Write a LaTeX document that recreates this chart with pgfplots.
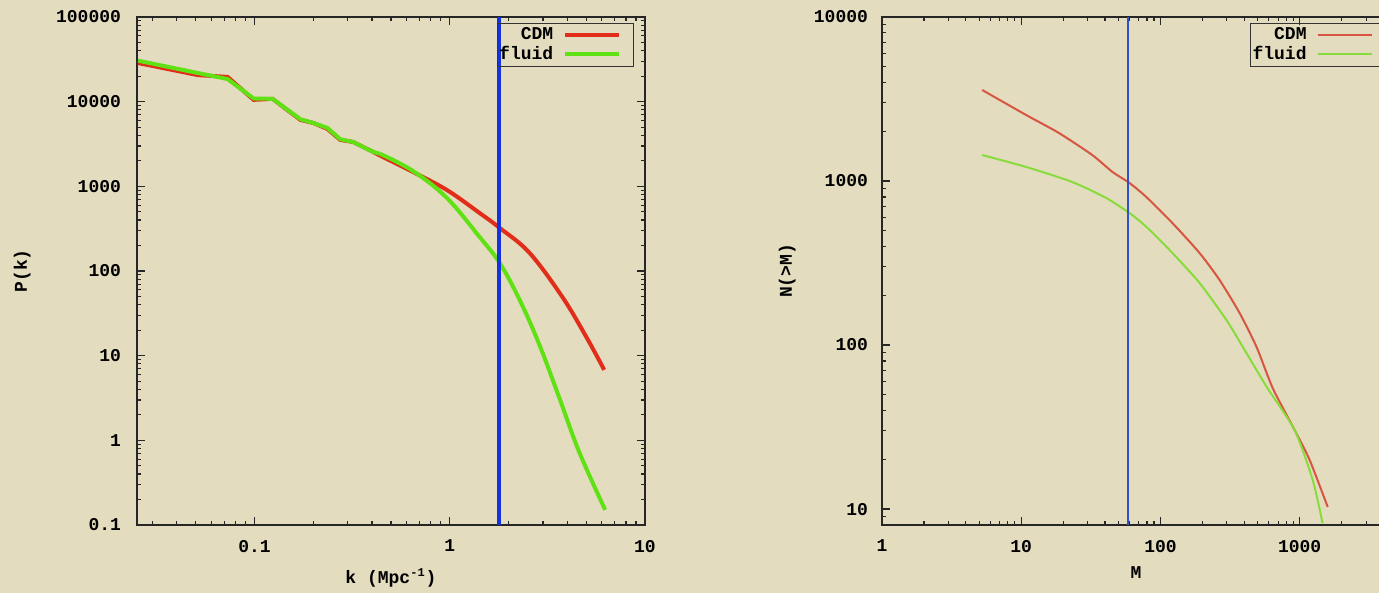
\documentclass[border=0pt]{standalone}
\usepackage{pgfplots}
\pgfplotsset{compat=1.18}
\usepackage{fontspec}
\setmonofont{Liberation Mono}
\definecolor{bg}{RGB}{227,220,191}
\definecolor{cdmL}{RGB}{225,45,25}
\definecolor{fluL}{RGB}{95,225,20}
\definecolor{bluL}{RGB}{20,50,225}
\definecolor{cdmR}{RGB}{215,85,65}
\definecolor{fluR}{RGB}{135,220,60}
\definecolor{bluR}{RGB}{50,80,200}
\newcommand{\gpfont}{\fontsize{9}{10}\selectfont\ttfamily\bfseries}
\pgfplotsset{
  gp/.style={
    scale only axis,
    axis line style={line width=1pt, black!85},
    tick style={black!85, line width=0.6pt},
    major tick length=4pt, minor tick length=2pt,
    tick label style={font=\gpfont},
    yticklabel style={xshift=-4.5pt},
    xticklabel style={yshift=-4pt},
    legend plot pos=right,
    legend cell align=right,
    legend image code/.code={\draw[#1] (0pt,0pt) -- (27pt,0pt); \path (33pt,0pt);},
    legend style={anchor=north east, draw=black!80, line width=0.6pt, fill=none,
      font=\gpfont, inner xsep=0pt, inner ysep=1pt,
      nodes={inner sep=1pt}, row sep=-0.3pt, /tikz/column sep=4pt},
  }
}
\begin{document}
\begin{tikzpicture}
\fill[bg] (0,0) rectangle (689.5pt,296.5pt);
% ---------------- left: P(k)
\begin{axis}[gp,
  at={(68.5pt,34pt)}, anchor=south west,
  width=254pt, height=254pt,
  xmode=log, ymode=log,
  xmin=0.025, xmax=10, ymin=0.1, ymax=100000,
  xtick={0.1,1,10}, xticklabels={0.1,1,10},
  minor xtick={0.03,0.04,0.05,0.06,0.07,0.08,0.09,0.2,0.3,0.4,0.5,0.6,0.7,0.8,0.9,2,3,4,5,6,7,8,9},
  ytick={0.1,1,10,100,1000,10000,100000},
  yticklabels={0.1,1,10,100,1000,10000,100000},
  minor ytick={0.2,0.3,0.4,0.5,0.6,0.7,0.8,0.9,2,3,4,5,6,7,8,9,20,30,40,50,60,70,80,90,200,300,400,500,600,700,800,900,2000,3000,4000,5000,6000,7000,8000,9000,20000,30000,40000,50000,60000,70000,80000,90000},
  xlabel={k (Mpc\textsuperscript{-1})}, ylabel={P(k)},
  every axis x label/.style={at={(axis description cs:0.5,-0.104)}, anchor=center, font=\gpfont},
  every axis y label/.style={at={(axis description cs:-0.226,0.5)}, rotate=90, anchor=center, font=\gpfont},
  legend style={at={(rel axis cs:0.978,0.988)}},
]
\addplot[cdmL, line width=2pt] coordinates {
(0.0253,28600) (0.0512,20600) (0.0728,19600) (0.0989,10500) (0.1236,10800)
(0.172,6080) (0.200,5600) (0.236,4770) (0.275,3530) (0.320,3340)
(0.405,2550) (0.44,2300)};
\addlegendentry{CDM}
\addplot[fluL, line width=2pt] coordinates {
(0.0253,30500) (0.0512,21800) (0.0728,18500) (0.0989,10900) (0.1236,10800)
(0.172,6200) (0.200,5600) (0.236,4900) (0.275,3600) (0.320,3340)
(0.405,2550) (0.44,2420)};
\addlegendentry{fluid}
\addplot[cdmL, line width=2pt, smooth, tension=0.6, forget plot] coordinates {
(0.44,2300) (0.647,1480) (0.966,906) (1.42,485) (1.80,323)
(2.56,164) (3.77,49.5) (5.0,16.7) (6.18,6.8)};
\addplot[fluL, line width=2pt, smooth, tension=0.6, forget plot] coordinates {
(0.44,2420) (0.647,1520) (0.966,730) (1.42,253) (1.80,125)
(2.28,45.6) (2.88,13.4) (3.64,3.18) (4.60,0.731) (6.25,0.151)};
\addplot[bluL, line width=2pt, forget plot] coordinates {(1.78,0.1) (1.78,100000)};
\end{axis}
% ---------------- right: N(>M)
\begin{axis}[gp,
  at={(441pt,34pt)}, anchor=south west,
  width=257.5pt, height=254pt,
  xmode=log, ymode=log,
  xmin=1, xmax=5000, ymin=8, ymax=10000,
  xtick={1,10,100,1000}, xticklabels={1,10,100,1000},
  minor xtick={2,3,4,5,6,7,8,9,20,30,40,50,60,70,80,90,200,300,400,500,600,700,800,900,2000,3000,4000},
  ytick={10,100,1000,10000}, yticklabels={10,100,1000,10000},
  minor ytick={9,20,30,40,50,60,70,80,90,200,300,400,500,600,700,800,900,2000,3000,4000,5000,6000,7000,8000,9000},
  yticklabel style={xshift=1pt},
  xlabel={M}, ylabel={N(>M)},
  every axis x label/.style={at={(axis description cs:0.493,-0.094)}, anchor=center, font=\gpfont},
  every axis y label/.style={at={(axis description cs:-0.184,0.5)}, rotate=90, anchor=center, font=\gpfont},
  legend style={at={(rel axis cs:0.977,0.988)}},
]
\addplot[cdmR, line width=1pt, smooth, tension=0.4] coordinates {
(5.24,3590) (10.9,2520) (18.7,1960) (32.4,1440) (45.2,1136) (59.9,973)
(79.3,798) (122,554) (191,364) (266,249) (370,157) (491,97) (640,54.7)
(920,30.3) (1180,19.9) (1590,10.3)};
\addlegendentry{CDM}
\addplot[fluR, line width=1pt, smooth, tension=0.4] coordinates {
(5.24,1440) (10.9,1217) (23.3,986) (40.9,787) (59.9,638) (79.3,525)
(122,364) (191,239) (298,142) (416,89) (580,55.5) (920,30.3) (1242,15.0) (1460,8.2)};
\addlegendentry{fluid}
\addplot[bluR, line width=1pt, forget plot] coordinates {(58,8) (58,10000)};
\end{axis}
\pgfresetboundingbox
\useasboundingbox (0,0) rectangle (689.5pt,296.5pt);
\end{tikzpicture}
\end{document}
